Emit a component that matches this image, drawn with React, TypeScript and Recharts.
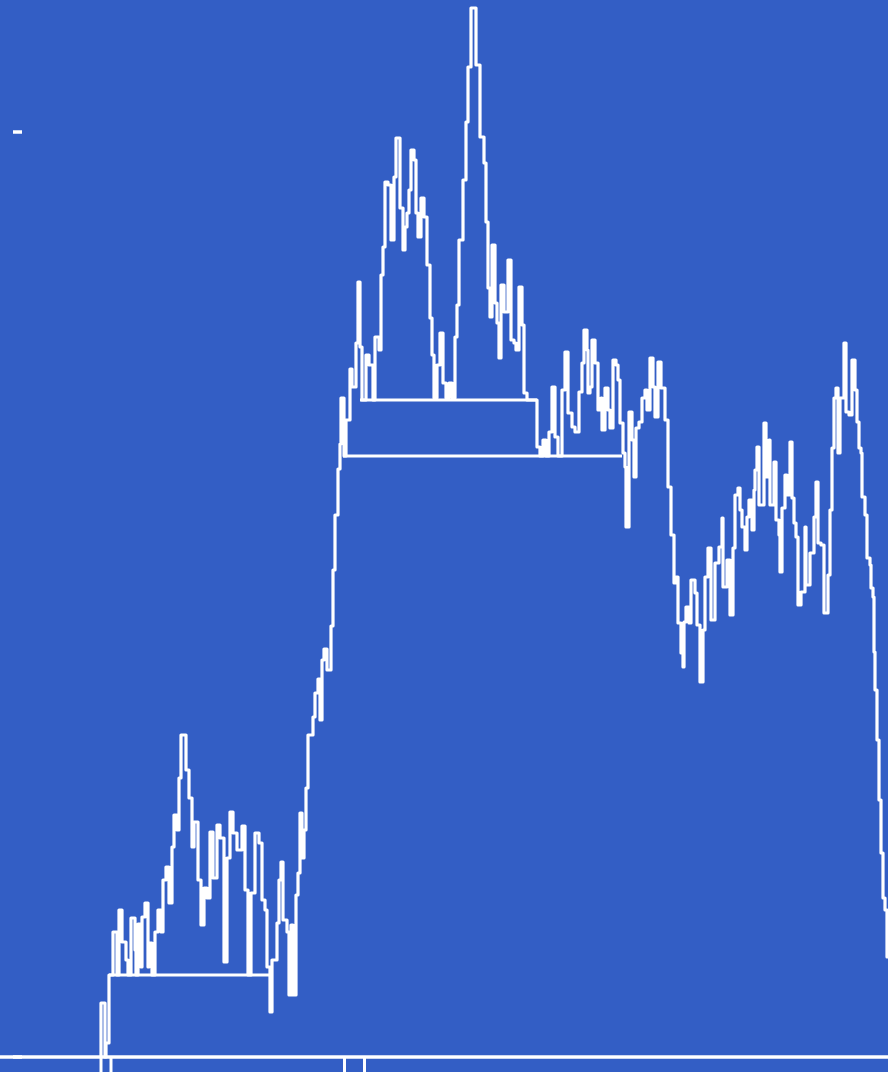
import React from "react";
import { LineChart, Line, XAxis, YAxis } from "recharts";

// walk: step position and level after the jump at that step
const stepX = [
  1, 1, 5, 6, 9, 13, 17, 19, 22, 26, 28, 31, 35, 36, 38, 41, 42, 45, 48, 49,
  52, 55, 58, 61, 63, 66, 69, 72, 74, 77, 79, 81, 86, 89, 92, 94, 98, 101, 104, 107,
  110, 113, 117, 120, 124, 127, 130, 133, 137, 142, 145, 148, 151, 155, 159, 162, 165, 167, 170, 172,
  177, 179, 181, 183, 187, 189, 191, 193, 196, 198, 200, 202, 204, 206, 208, 213, 215, 218, 220, 222,
  224, 227, 231, 233, 235, 238, 240, 241, 244, 246, 250, 252, 256, 258, 260, 262, 266, 269, 273, 275,
  279, 281, 283, 285, 288, 291, 294, 296, 300, 303, 305, 307, 309, 311, 314, 316, 318, 321, 324, 327,
  330, 332, 334, 337, 340, 343, 346, 349, 352, 355, 357, 359, 363, 366, 368, 371, 376, 380, 384, 386,
  388, 390, 392, 395, 397, 399, 401, 404, 408, 411, 414, 416, 419, 422, 424, 427, 437, 440, 443, 446,
  449, 452, 455, 458, 462, 465, 468, 472, 475, 479, 482, 484, 487, 488, 490, 492, 495, 498, 501, 502,
  505, 508, 510, 513, 516, 518, 520, 523, 525, 526, 529, 532, 534, 536, 539, 542, 545, 547, 550, 553,
  555, 558, 561, 565, 568, 571, 574, 576, 578, 581, 583, 584, 586, 589, 591, 595, 597, 600, 603, 605,
  608, 611, 615, 619, 622, 623, 627, 630, 633, 635, 638, 640, 642, 645, 647, 649, 652, 654, 655, 657,
  659, 664, 666, 669, 670, 674, 676, 679, 680, 682, 685, 687, 690, 692, 694, 696, 698, 701, 705, 706,
  710, 714, 716, 718, 721, 724, 728, 730, 732, 734, 736, 738, 740, 744, 746, 749, 752, 755, 757, 759,
  761, 762, 765, 767, 770, 771, 773, 774, 775, 777, 779, 781, 783, 785, 787, 790, 795,
];

const level = [
  0, 54, 0, 14, 82, 125, 82, 147, 115, 97, 82, 139, 107, 82, 133, 90, 140, 154, 90, 114,
  82, 125, 147, 125, 177, 190, 154, 210, 242, 227, 279, 322, 287, 259, 210, 235, 177, 132, 169, 159,
  225, 179, 232, 219, 95, 199, 245, 224, 207, 231, 167, 82, 164, 224, 214, 157, 147, 90, 45, 97,
  134, 177, 195, 137, 125, 62, 132, 62, 162, 184, 244, 199, 227, 269, 322, 340, 364, 378, 337, 397,
  408, 387, 431, 487, 542, 588, 613, 659, 601, 637, 688, 670, 714, 775, 710, 657, 702, 692, 657, 720,
  707, 782, 810, 875, 872, 817, 880, 919, 849, 807, 830, 844, 867, 907, 897, 844, 820, 859, 840, 792,
  739, 702, 659, 692, 724, 674, 659, 674, 659, 720, 752, 817, 877, 935, 990, 1049, 992, 920, 894, 835,
  769, 740, 812, 754, 734, 699, 772, 745, 797, 717, 714, 707, 770, 732, 664, 657, 610, 601, 617, 601,
  625, 670, 620, 601, 667, 705, 644, 630, 625, 665, 694, 727, 707, 664, 670, 717, 694, 647, 659, 627,
  669, 647, 629, 697, 692, 677, 634, 604, 590, 530, 645, 617, 580, 629, 635, 659, 667, 647, 699, 670,
  640, 695, 669, 637, 570, 522, 474, 480, 434, 404, 390, 435, 450, 434, 477, 464, 432, 375, 427, 480,
  509, 437, 494, 510, 539, 470, 497, 442, 509, 562, 569, 547, 530, 507, 540, 557, 527, 567, 587, 610,
  552, 634, 580, 617, 552, 595, 537, 522, 485, 549, 582, 562, 615, 559, 534, 520, 452, 465, 530, 472,
  504, 540, 575, 514, 512, 444, 482, 547, 609, 659, 669, 604, 659, 714, 645, 642, 697, 667, 635, 609,
  604, 560, 542, 499, 492, 469, 460, 405, 367, 317, 257, 204, 159, 147, 100, 57, 17,
];

// levels the walk leaves and returns to
const chordStart = [9, 243, 260];
const chordEnd = [170, 522, 437];
const chordLevel = [82, 601, 657];

const xTicks = [1, 11, 244.5, 264.5];
const yTicks = [0, 925];

const walk = stepX.map((x, i) => ({ x, y: level[i] }));
const chords = chordLevel.map((y, i) => [
  { x: chordStart[i], y },
  { x: chordEnd[i], y },
]);

const NoLabel = () => null;

// short dash drawn a little right of where the axis puts its label
const YDash = (props: any) => (
  <line
    x1={props.x + 24}
    x2={props.x + 33}
    y1={props.y}
    y2={props.y}
    stroke="#ffffff"
    strokeWidth={3.5}
  />
);

export default function App() {
  return (
    <div
      style={{
        position: "fixed",
        left: 0,
        top: 0,
        width: 888,
        height: 1072,
        overflow: "hidden",
        background: "#335ec5",
      }}
    >
      <div style={{ position: "absolute", left: -40, top: -43 }}>
        <LineChart
          width={940}
          height={1140}
          margin={{ top: 0, right: 0, bottom: 0, left: 0 }}
        >
          <XAxis
            dataKey="x"
            type="number"
            domain={[-100, 800]}
            ticks={xTicks}
            interval={0}
            height={40}
            tick={NoLabel}
            tickSize={16}
            axisLine={{ stroke: "#ffffff", strokeWidth: 3.5 }}
            tickLine={{ stroke: "#ffffff", strokeWidth: 3 }}
          />
          <YAxis
            type="number"
            domain={[0, 1100]}
            ticks={yTicks}
            interval={0}
            width={40}
            tick={YDash}
            tickSize={9}
            axisLine={false}
            tickLine={false}
          />
          <Line
            data={walk}
            dataKey="y"
            type="stepAfter"
            stroke="#ffffff"
            strokeWidth={3.2}
            strokeLinejoin="round"
            dot={false}
            activeDot={false}
            isAnimationActive={false}
          />
          {chords.map((c, i) => (
            <Line
              key={i}
              data={c}
              dataKey="y"
              type="linear"
              stroke="#ffffff"
              strokeWidth={3.2}
              dot={false}
              activeDot={false}
              isAnimationActive={false}
            />
          ))}
        </LineChart>
      </div>
    </div>
  );
}
